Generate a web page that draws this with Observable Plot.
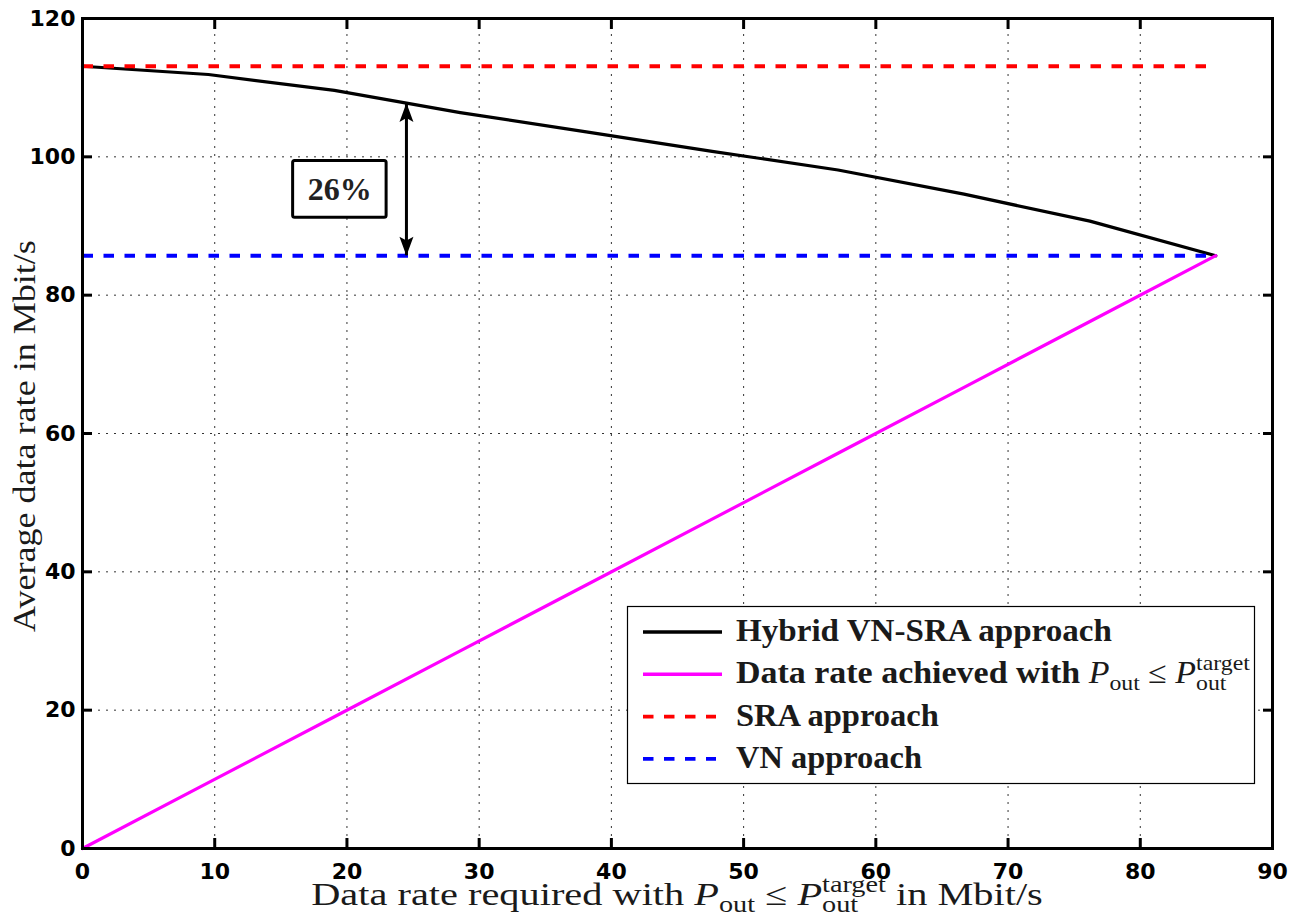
<!DOCTYPE html>
<html>
<head>
<meta charset="utf-8">
<script src="https://cdn.jsdelivr.net/npm/d3@7"></script>
<script src="https://cdn.jsdelivr.net/npm/@observablehq/plot@0.6"></script>
<style>
  html, body { margin: 0; padding: 0; background: #fff; }
  #chart { position: relative; width: 1298px; height: 916px; }
  #chart svg { display: block; }
</style>
</head>
<body>
<div id="chart"></div>
<script>
// ---------- data ----------
const xTicks = [0, 10, 20, 30, 40, 50, 60, 70, 80, 90];
const yTicks = [0, 20, 40, 60, 80, 100, 120];

const requiredRate = [0, 9.52, 19.05, 28.57, 38.1, 47.62, 57.14, 66.67, 76.19, 85.71];
const hybridRate   = [113.1, 111.9, 109.6, 106.4, 103.6, 100.8, 98.1, 94.6, 90.7, 85.7];
const achievedRate = [0, 9.52, 19.05, 28.57, 38.1, 47.62, 57.14, 66.67, 76.19, 85.71];
const sraRate = 113.1;
const vnRate = 85.7;

const seriesNames  = ["Hybrid VN-SRA approach", "Data rate achieved with ", "SRA approach", "VN approach"];
const seriesColors = ["#000000", "#ff00ff", "#ff0000", "#0000ff"];
const seriesDashed = [false, false, true, true];

// annotation "26%" (data coordinates)
const gainLabel = ["26%"];
const gainLabelX = [19.45];
const gainLabelY = [95.3];
const gainBoxX = [15.93, 23.0];
const gainBoxY = [91.2, 99.4];
const gainArrowX = [24.5];
const gainArrowY = [85.7, 107.8];

const xLabelPrefix = "Data rate required with ";
const xLabelSuffix = " in Mbit/s";
const yLabel = "Average data rate in Mbit/s";

// ---------- derived tables ----------
const hybrid = requiredRate.map((x, i) => ({x, y: hybridRate[i]}));
const achieved = requiredRate.map((x, i) => ({x, y: achievedRate[i]}));
const xEnd = requiredRate[requiredRate.length - 1];
const sra = [{x: 0, y: sraRate}, {x: xEnd, y: sraRate}];
const vn = [{x: 0, y: vnRate}, {x: xEnd, y: vnRate}];
const box = [{x1: gainBoxX[0], x2: gainBoxX[1], y1: gainBoxY[0], y2: gainBoxY[1]}];
const boxText = [{x: gainLabelX[0], y: gainLabelY[0], t: gainLabel[0]}];
const shaft = [{x: gainArrowX[0], y1: gainArrowY[0], y2: gainArrowY[1]}];
const heads = [
  {x: gainArrowX[0], y: gainArrowY[1], rotate: 0},
  {x: gainArrowX[0], y: gainArrowY[0], rotate: 180}
];

const serif = "'Liberation Serif', 'Times New Roman', serif";
const sans = "'DejaVu Sans', sans-serif";
const gridStyle = {stroke: "#333", strokeOpacity: 1, strokeWidth: 1, strokeDasharray: "2,6"};

const headShape = {
  draw(ctx, l, r) {
    ctx.moveTo(0, 0);
    ctx.lineTo(r, l);
    ctx.lineTo(0, l * 0.8);
    ctx.lineTo(-r, l);
    ctx.closePath();
  }
};

const chart = Plot.plot({
  width: 1298,
  height: 916,
  marginLeft: 82,
  marginRight: 26,
  marginTop: 18,
  marginBottom: 68,
  style: {background: "white", color: "black", fontFamily: sans, overflow: "visible"},
  x: {domain: [0, 90]},
  y: {domain: [0, 120]},
  marks: [
    Plot.gridX(xTicks, gridStyle),
    Plot.gridY(yTicks, gridStyle),
    Plot.line(hybrid, {x: "x", y: "y", stroke: seriesColors[0], strokeWidth: 3.2}),
    Plot.line(achieved, {x: "x", y: "y", stroke: seriesColors[1], strokeWidth: 3.2}),
    Plot.line(sra, {x: "x", y: "y", stroke: seriesColors[2], strokeWidth: 3.8, strokeDasharray: "10.5,10.5", strokeLinecap: "butt"}),
    Plot.line(vn, {x: "x", y: "y", stroke: seriesColors[3], strokeWidth: 3.8, strokeDasharray: "10.5,10.5", strokeLinecap: "butt"}),
    Plot.rect(box, {x1: "x1", x2: "x2", y1: "y1", y2: "y2", fill: "white", stroke: "black", strokeWidth: 3, rx: 2}),
    Plot.text(boxText, {x: "x", y: "y", text: "t", fontFamily: serif, fontWeight: "bold", fontSize: 32, fill: "#222"}),
    Plot.ruleX(shaft, {x: "x", y1: "y1", y2: "y2", stroke: "black", strokeWidth: 3}),
    Plot.vector(heads, {x: "x", y: "y", rotate: "rotate", length: 19, r: 7, anchor: "start", shape: headShape, fill: "black", stroke: "none"}),
    Plot.frame({stroke: "black", strokeWidth: 3}),
    // inward ticks on all four sides
    Plot.axisX(xTicks, {anchor: "bottom", tickSize: 10, dy: -10, fill: "none", stroke: "black", strokeWidth: 3, label: null}),
    Plot.axisX(xTicks, {anchor: "top", tickSize: 10, dy: 10, fill: "none", stroke: "black", strokeWidth: 3, label: null}),
    Plot.axisY(yTicks, {anchor: "left", tickSize: 10, dx: 10, fill: "none", stroke: "black", strokeWidth: 3, label: null}),
    Plot.axisY(yTicks, {anchor: "right", tickSize: 10, dx: -10, fill: "none", stroke: "black", strokeWidth: 3, label: null}),
    // tick labels
    Plot.axisX(xTicks, {anchor: "bottom", tickSize: 0, tickPadding: 15, fontSize: 22, fontWeight: "bold", fontFamily: sans, label: null, tickFormat: d => String(d)}),
    Plot.axisY(yTicks, {anchor: "left", tickSize: 0, tickPadding: 7, fontSize: 22, fontWeight: "bold", fontFamily: sans, label: null, tickFormat: d => String(d)})
  ]
});

document.getElementById("chart").appendChild(chart);

const svg = d3.select(chart);

// stretch a text horizontally so that it spans the wanted width
function fit(t, base, width) {
  const w = t.node().getBBox().width;
  t.attr("transform", `${base} scale(${width / w},1)`);
}

// math-text helper: prefix + P_out ≤ P_out^target + suffix
function mathText(g, prefix, suffix, size, weight, anchor) {
  const t = g.append("text")
    .attr("text-anchor", anchor)
    .attr("font-family", serif)
    .attr("font-size", size)
    .attr("fill", "#1a1a1a")
    .style("white-space", "pre");
  t.append("tspan").attr("font-weight", weight).text(prefix);
  t.append("tspan").attr("font-style", "italic").text("P");
  t.append("tspan").attr("font-size", size * 0.7).attr("dy", size * 0.22).text("out");
  t.append("tspan").attr("dy", -size * 0.22).text(" \u2264 ");
  t.append("tspan").attr("font-style", "italic").text("P");
  const sub = t.append("tspan").attr("font-size", size * 0.7).attr("dy", size * 0.22).text("out");
  const sup = t.append("tspan").attr("font-size", size * 0.7).attr("dy", -size * 0.64).text("target");
  sup.attr("dx", -sub.node().getComputedTextLength());
  if (suffix) t.append("tspan").attr("font-weight", weight).attr("dy", size * 0.42).text(suffix);
  return t;
}

// axis titles
const yt = svg.append("text")
  .attr("text-anchor", "middle")
  .attr("font-family", serif)
  .attr("font-size", 32)
  .attr("fill", "#1a1a1a")
  .text(yLabel);
fit(yt, "translate(35,436) rotate(-90)", 392);

const xt = mathText(svg, xLabelPrefix, xLabelSuffix, 32, "normal", "middle");
fit(xt, "translate(677,905)", 732);

// legend
const legendEnds = [1112, 1250, 939, 922];
const lg = svg.append("g");
lg.append("rect")
  .attr("x", 627.5).attr("y", 606.5).attr("width", 627).attr("height", 177)
  .attr("fill", "white").attr("stroke", "black").attr("stroke-width", 1.2);
seriesNames.forEach((name, i) => {
  const cy = 632 + i * 42.3;
  lg.append("line")
    .attr("x1", 643).attr("x2", seriesDashed[i] ? 716 : 722).attr("y1", cy).attr("y2", cy)
    .attr("stroke", seriesColors[i]).attr("stroke-width", seriesDashed[i] ? 3.8 : 3.5)
    .attr("stroke-dasharray", seriesDashed[i] ? "10.5,10.5" : null);
  let t;
  if (i === 1) {
    t = mathText(lg, name, "", 31, "bold", "start");
  } else {
    t = lg.append("text")
      .attr("text-anchor", "start")
      .attr("font-family", serif).attr("font-weight", "bold").attr("font-size", 31)
      .attr("fill", "#1a1a1a")
      .text(name);
  }
  fit(t, `translate(736,${cy + 9})`, legendEnds[i] - 736);
});
</script>
</body>
</html>
